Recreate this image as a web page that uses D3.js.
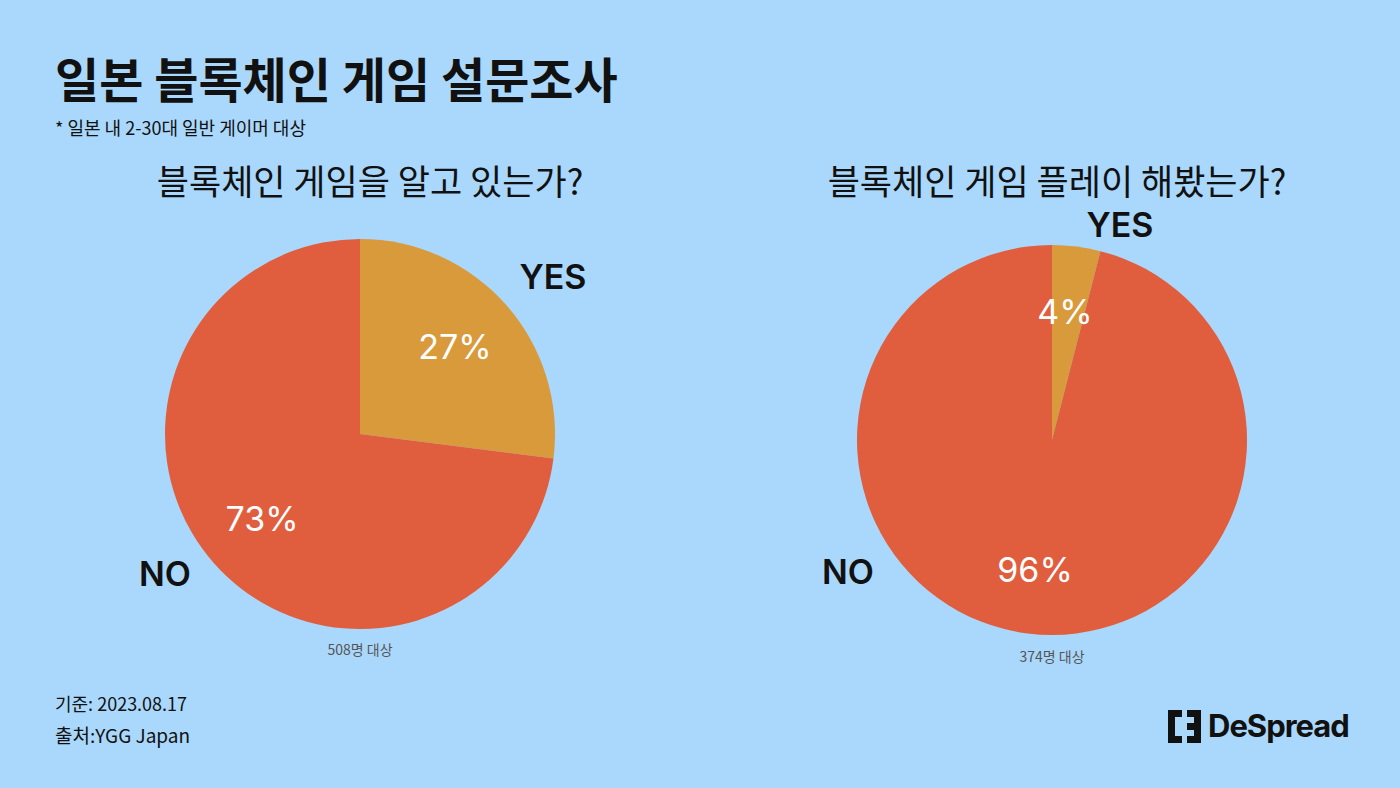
<!DOCTYPE html><html><head><meta charset="utf-8"><script src="https://cdn.jsdelivr.net/npm/d3@7"></script>
<style>body{margin:0;background:#AAD8FC;font-family:"Noto Sans CJK KR","Noto Sans",sans-serif}</style></head><body><svg id="c" width="1400" height="788"></svg><script>
const categories=["YES","NO"];
const chart1=[27,73];
const chart2=[4,96];
const titles=["블록체인 게임을 알고 있는가?","블록체인 게임 플레이 해봤는가?"];
const notes=["508명 대상","374명 대상"];
const colors=["#D89A3B","#E05E3E"];
const svg=d3.select("#c");
svg.append("rect").attr("width",1400).attr("height",788).attr("fill","#AAD8FC");
svg.append("text").attr("x",55).attr("y",98).attr("font-size",48).attr("font-weight",700).attr("fill","#111").text("일본 블록체인 게임 설문조사");
svg.append("text").attr("x",55).attr("y",135).attr("font-size",18).attr("fill","#111").text("* 일본 내 2-30대 일반 게이머 대상");
svg.append("text").attr("x",55).attr("y",711).attr("font-size",18).attr("fill","#111").text("기준: 2023.08.17");
svg.append("text").attr("x",55).attr("y",743).attr("font-size",19).attr("fill","#111").text("출처:YGG Japan");
const specs=[{d:chart1,cx:360,cy:434,r:195,tx:370,ny:655,
  lab:[{x:553,y:280,t:"YES"},{x:165,y:577,t:"NO"}],pct:[{x:455,y:350},{x:262,y:522}]},
 {d:chart2,cx:1052,cy:440,r:195,tx:1057,ny:662,
  lab:[{x:1120,y:228,t:"YES"},{x:848,y:575,t:"NO"}],pct:[{x:1065,y:315},{x:1035,y:573}]}];
const pie=d3.pie().sort(null).value(d=>d);
const arc=d3.arc().innerRadius(0);
specs.forEach((s,i)=>{
  svg.append("text").attr("x",s.tx).attr("y",195).attr("text-anchor","middle").attr("font-size",35).attr("fill","#111").text(titles[i]);
  const g=svg.append("g").attr("transform",`translate(${s.cx},${s.cy})`);
  g.selectAll("path").data(pie(s.d)).join("path").attr("d",d=>arc.outerRadius(s.r)(d)).attr("fill",(d,j)=>colors[j]);
  s.pct.forEach((p,j)=>svg.append("text").attr("x",p.x).attr("y",p.y).attr("text-anchor","middle").attr("dominant-baseline","middle").attr("font-size",34).attr("fill","#fff").attr("font-family","Inter,sans-serif").text(s.d[j]+"%"));
  s.lab.forEach(l=>svg.append("text").attr("x",l.x).attr("y",l.y).attr("text-anchor","middle").attr("dominant-baseline","middle").attr("font-size",34).attr("font-weight",600).attr("font-family","Inter,sans-serif").attr("fill","#111").text(l.t));
  svg.append("text").attr("x",s.cx).attr("y",s.ny).attr("text-anchor","middle").attr("font-size",14).attr("fill","#555").text(notes[i]);
});
const lg=svg.append("g").attr("transform","translate(1168,710)");
lg.append("path").attr("d","M0,0H14V7H7V26H14V33H0Z M19,0H33V33H19V26H26V20H19V13H26V7H19Z").attr("fill","#111");
svg.append("text").attr("x",1208).attr("y",737).attr("font-size",31).attr("font-weight",700).attr("font-family","Inter,sans-serif").attr("letter-spacing",-1).attr("fill","#111").text("DeSpread");
</script></body></html>
